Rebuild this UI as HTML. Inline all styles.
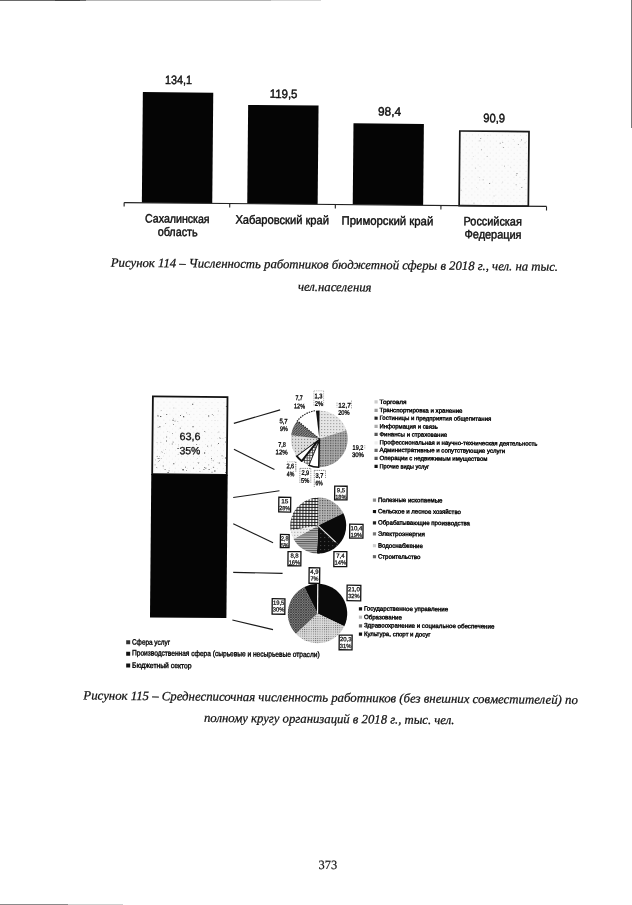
<!DOCTYPE html>
<html><head><meta charset="utf-8">
<style>
html,body{margin:0;padding:0;background:#fff;}
body{width:632px;height:905px;overflow:hidden;position:relative;}
svg{position:absolute;left:0;top:0;display:block;will-change:transform;}
</style></head><body>
<svg width="632" height="905" viewBox="0 0 632 905">
<defs>
<pattern id="dots1" width="6" height="6" patternUnits="userSpaceOnUse">
<rect width="6" height="6" fill="#fbfbfb"/>
<circle cx="1.5" cy="1.5" r="0.45" fill="#d0d0d0"/><circle cx="4.5" cy="4.2" r="0.4" fill="#dcdcdc"/>
</pattern>
<pattern id="pl" width="3" height="3" patternUnits="userSpaceOnUse"><rect width="3" height="3" fill="#e6e6e6"/><rect x="0" y="0" width="1" height="1" fill="#888"/></pattern>
<pattern id="pl2" width="3" height="3" patternUnits="userSpaceOnUse"><rect width="3" height="3" fill="#dcdcdc"/><rect x="1" y="1" width="1" height="1" fill="#777"/></pattern>
<pattern id="pl3" width="3" height="3" patternUnits="userSpaceOnUse"><rect width="3" height="3" fill="#eee"/><rect x="1" y="1" width="1" height="1" fill="#999"/></pattern>
<pattern id="pl4" width="2.2" height="2.2" patternUnits="userSpaceOnUse"><rect width="2.2" height="2.2" fill="#dadada"/><rect x="0" y="0" width="0.9" height="0.9" fill="#666"/></pattern>
<pattern id="pm" width="2.5" height="2.5" patternUnits="userSpaceOnUse"><rect width="2.5" height="2.5" fill="#aaa"/><rect x="0" y="0" width="1.2" height="1.2" fill="#555"/></pattern>
<pattern id="pm2" width="2.5" height="2.5" patternUnits="userSpaceOnUse"><rect width="2.5" height="2.5" fill="#b4b4b4"/><rect x="0" y="0" width="1.1" height="1.1" fill="#4a4a4a"/></pattern>
<pattern id="darkdots" width="4" height="4" patternUnits="userSpaceOnUse"><rect width="4" height="4" fill="#0e0e0e"/><rect x="1" y="1" width="0.8" height="0.8" fill="#777"/></pattern>
<pattern id="grid" width="2.6" height="2.6" patternUnits="userSpaceOnUse"><rect width="2.6" height="2.6" fill="#eee"/><rect width="2.6" height="0.7" fill="#333"/><rect width="0.7" height="2.6" fill="#333"/></pattern>
<pattern id="grid2" width="3" height="3" patternUnits="userSpaceOnUse"><rect width="3" height="3" fill="#f0f0f0"/><rect width="3" height="0.9" fill="#111"/><rect width="0.9" height="3" fill="#111"/></pattern>
<pattern id="hatch" width="2.5" height="2.5" patternUnits="userSpaceOnUse"><rect width="2.5" height="2.5" fill="#999"/><path d="M0 2.5 L2.5 0" stroke="#333" stroke-width="1"/></pattern>
<pattern id="xhatch" width="2.5" height="2.5" patternUnits="userSpaceOnUse"><rect width="2.5" height="2.5" fill="#888"/><path d="M0 0 L2.5 2.5 M0 2.5 L2.5 0" stroke="#333" stroke-width="0.7"/></pattern>
<pattern id="hstripe" width="3" height="2.2" patternUnits="userSpaceOnUse"><rect width="3" height="2.2" fill="#bbb"/><rect y="0" width="3" height="1" fill="#555"/></pattern>
</defs>
<rect width="632" height="905" fill="#ffffff"/>
<g transform="rotate(0.52 316 452)">
<g id="c1">
<rect x="139.6" y="93.6" width="70.4" height="110.7" fill="#050505"/>
<rect x="245" y="105.6" width="70.4" height="98.7" fill="#050505"/>
<rect x="350.5" y="123" width="70.4" height="81.3" fill="#050505"/>
<rect x="456.9" y="129.7" width="69.2" height="74.6" fill="url(#dots1)" stroke="#151515" stroke-width="1.7"/>
<line x1="121.9" y1="204.3" x2="544.3" y2="204.3" stroke="#222" stroke-width="1.2"/>
<line x1="121.9" y1="204.3" x2="121.9" y2="208.3" stroke="#222" stroke-width="1.1"/>
<line x1="227.5" y1="204.3" x2="227.5" y2="208.3" stroke="#222" stroke-width="1.1"/>
<line x1="333.1" y1="204.3" x2="333.1" y2="208.3" stroke="#222" stroke-width="1.1"/>
<line x1="438.7" y1="204.3" x2="438.7" y2="208.3" stroke="#222" stroke-width="1.1"/>
<line x1="544.3" y1="204.3" x2="544.3" y2="208.3" stroke="#222" stroke-width="1.1"/>
</g>
<text x="161.66" y="85.27" font-family="Liberation Sans" font-size="12.1" stroke="#111" stroke-width="0.45" fill="#111" textLength="27" lengthAdjust="spacingAndGlyphs">134,1</text>
<text x="266.48" y="98.31" font-family="Liberation Sans" font-size="12.1" stroke="#111" stroke-width="0.45" fill="#111" textLength="27.8" lengthAdjust="spacingAndGlyphs">119,5</text>
<text x="374.94" y="114.95" font-family="Liberation Sans" font-size="12.1" stroke="#111" stroke-width="0.45" fill="#111" textLength="23" lengthAdjust="spacingAndGlyphs">98,4</text>
<text x="480.29" y="120.59" font-family="Liberation Sans" font-size="12.1" stroke="#111" stroke-width="0.45" fill="#111" textLength="21.7" lengthAdjust="spacingAndGlyphs">90,9</text>
<text x="143.02" y="223.97" font-family="Liberation Sans" font-size="12.1" stroke="#111" stroke-width="0.45" fill="#111" textLength="64.5" lengthAdjust="spacingAndGlyphs">Сахалинская</text>
<text x="155.74" y="237.27" font-family="Liberation Sans" font-size="12.1" stroke="#111" stroke-width="0.45" fill="#111" textLength="39.9" lengthAdjust="spacingAndGlyphs">область</text>
<text x="233.33" y="224.32" font-family="Liberation Sans" font-size="12.1" stroke="#111" stroke-width="0.45" fill="#111" textLength="93.6" lengthAdjust="spacingAndGlyphs">Хабаровский край</text>
<text x="339.53" y="224.26" font-family="Liberation Sans" font-size="12.1" stroke="#111" stroke-width="0.45" fill="#111" textLength="91.7" lengthAdjust="spacingAndGlyphs">Приморский край</text>
<text x="461.53" y="223.8" font-family="Liberation Sans" font-size="12.1" stroke="#111" stroke-width="0.45" fill="#111" textLength="58.2" lengthAdjust="spacingAndGlyphs">Российская</text>
<text x="462.55" y="236.9" font-family="Liberation Sans" font-size="12.1" stroke="#111" stroke-width="0.45" fill="#111" textLength="57" lengthAdjust="spacingAndGlyphs">Федерация</text>
<text x="109.14" y="268.54" font-family="Liberation Serif" font-size="12.7" font-style="italic" stroke="#111" stroke-width="0.25" fill="#111" textLength="447.2" lengthAdjust="spacingAndGlyphs">Рисунок 114 – Численность работников бюджетной сферы в 2018 г., чел. на тыс.</text>
<text x="296.44" y="290.94" font-family="Liberation Serif" font-size="12.7" font-style="italic" stroke="#111" stroke-width="0.25" fill="#111" textLength="73.6" lengthAdjust="spacingAndGlyphs">чел.населения</text>
<rect x="152.4" y="397.9" width="74.6" height="77.8" fill="url(#dots1)" stroke="#111" stroke-width="1.8"/>
<rect x="151.5" y="475.6" width="76.4" height="143.3" fill="#050505"/>
<rect x="177.32" y="422.43" width="0.56" height="0.49" fill="#222"/>
<rect x="213.13" y="416.41" width="0.56" height="0.49" fill="#444"/>
<rect x="156.7" y="444.04" width="0.56" height="0.49" fill="#444"/>
<rect x="160.53" y="443.45" width="0.56" height="0.49" fill="#444"/>
<rect x="199.41" y="452.98" width="0.56" height="0.49" fill="#888"/>
<rect x="157.57" y="428.73" width="0.72" height="0.63" fill="#666"/>
<rect x="184.18" y="450.55" width="0.88" height="0.77" fill="#444"/>
<rect x="161.42" y="452.31" width="0.72" height="0.63" fill="#666"/>
<rect x="161.02" y="459.99" width="0.56" height="0.49" fill="#444"/>
<rect x="189.74" y="450.03" width="0.88" height="0.77" fill="#888"/>
<rect x="196.16" y="445.27" width="0.88" height="0.77" fill="#444"/>
<rect x="211.2" y="459.31" width="0.72" height="0.63" fill="#222"/>
<rect x="195.36" y="449.64" width="0.88" height="0.77" fill="#888"/>
<rect x="174.73" y="473.09" width="0.56" height="0.49" fill="#888"/>
<rect x="165.88" y="437.93" width="1.12" height="0.98" fill="#888"/>
<rect x="156.82" y="457.67" width="0.88" height="0.77" fill="#666"/>
<rect x="204.06" y="453.62" width="1.12" height="0.98" fill="#222"/>
<rect x="214.48" y="471.45" width="1.12" height="0.98" fill="#222"/>
<rect x="158.37" y="459.44" width="1.12" height="0.98" fill="#666"/>
<rect x="205.6" y="468.73" width="0.88" height="0.77" fill="#222"/>
<rect x="221.73" y="438.86" width="0.56" height="0.49" fill="#888"/>
<rect x="158.24" y="462.88" width="0.72" height="0.63" fill="#444"/>
<rect x="182.65" y="470.14" width="1.12" height="0.98" fill="#222"/>
<rect x="165.98" y="441.97" width="0.88" height="0.77" fill="#444"/>
<rect x="212.99" y="467.62" width="0.88" height="0.77" fill="#888"/>
<rect x="225.03" y="458.44" width="1.12" height="0.98" fill="#444"/>
<rect x="164.87" y="424.82" width="0.72" height="0.63" fill="#444"/>
<rect x="154.87" y="466.01" width="0.72" height="0.63" fill="#666"/>
<rect x="174.3" y="421.92" width="0.88" height="0.77" fill="#666"/>
<rect x="222.62" y="458.86" width="0.56" height="0.49" fill="#888"/>
<rect x="218.77" y="463.47" width="1.12" height="0.98" fill="#888"/>
<rect x="182.73" y="417.49" width="1.12" height="0.98" fill="#222"/>
<rect x="167.72" y="473.3" width="1.12" height="0.98" fill="#444"/>
<rect x="161.91" y="453.98" width="0.56" height="0.49" fill="#222"/>
<rect x="194.81" y="450.31" width="0.88" height="0.77" fill="#222"/>
<rect x="159.06" y="427.62" width="1.12" height="0.98" fill="#444"/>
<rect x="199.68" y="471.95" width="0.88" height="0.77" fill="#888"/>
<rect x="162.84" y="466.89" width="1.12" height="0.98" fill="#888"/>
<rect x="188.84" y="415.42" width="0.56" height="0.49" fill="#666"/>
<rect x="207.31" y="446.84" width="0.72" height="0.63" fill="#222"/>
<rect x="168.78" y="471.79" width="0.88" height="0.77" fill="#444"/>
<rect x="203.68" y="470.01" width="0.88" height="0.77" fill="#222"/>
<rect x="204.13" y="431.96" width="0.88" height="0.77" fill="#444"/>
<rect x="179.61" y="428.87" width="0.88" height="0.77" fill="#444"/>
<rect x="198.15" y="463.9" width="0.72" height="0.63" fill="#444"/>
<rect x="212.92" y="461.43" width="0.72" height="0.63" fill="#444"/>
<rect x="191.27" y="438.87" width="0.56" height="0.49" fill="#222"/>
<rect x="210.89" y="446.45" width="0.72" height="0.63" fill="#666"/>
<rect x="186.2" y="471.09" width="0.88" height="0.77" fill="#666"/>
<rect x="159.8" y="417.34" width="1.12" height="0.98" fill="#444"/>
<rect x="178.32" y="447.09" width="0.56" height="0.49" fill="#888"/>
<rect x="219.46" y="438.06" width="0.56" height="0.49" fill="#222"/>
<rect x="219.5" y="463.59" width="0.72" height="0.63" fill="#888"/>
<rect x="218.01" y="444.05" width="0.88" height="0.77" fill="#222"/>
<rect x="211.66" y="472.7" width="1.12" height="0.98" fill="#888"/>
<rect x="182.9" y="471.55" width="0.72" height="0.63" fill="#444"/>
<rect x="225.5" y="406.81" width="1.12" height="0.98" fill="#444"/>
<rect x="198.03" y="453.71" width="1.12" height="0.98" fill="#666"/>
<rect x="165.23" y="450.99" width="0.56" height="0.49" fill="#222"/>
<rect x="211.55" y="460.73" width="0.56" height="0.49" fill="#444"/>
<rect x="185.23" y="467.99" width="0.72" height="0.63" fill="#222"/>
<rect x="172.13" y="434.38" width="0.72" height="0.63" fill="#666"/>
<rect x="172.67" y="443.1" width="0.72" height="0.63" fill="#222"/>
<rect x="219.52" y="438.74" width="1.12" height="0.98" fill="#888"/>
<rect x="213.55" y="468.3" width="0.72" height="0.63" fill="#444"/>
<rect x="191.69" y="404.98" width="1.12" height="0.98" fill="#444"/>
<rect x="197.82" y="463.27" width="0.72" height="0.63" fill="#444"/>
<rect x="164.19" y="455" width="0.56" height="0.49" fill="#222"/>
<rect x="177.47" y="449.24" width="1.12" height="0.98" fill="#222"/>
<rect x="217.59" y="411.6" width="0.72" height="0.63" fill="#666"/>
<rect x="157.04" y="416.83" width="1.12" height="0.98" fill="#222"/>
<rect x="208.72" y="469.94" width="1.12" height="0.98" fill="#666"/>
<rect x="198.1" y="448.47" width="0.72" height="0.63" fill="#666"/>
<rect x="186.57" y="450.12" width="1.12" height="0.98" fill="#444"/>
<rect x="204.34" y="468.22" width="0.88" height="0.77" fill="#444"/>
<rect x="214.48" y="421.07" width="0.56" height="0.49" fill="#888"/>
<rect x="185.83" y="413.75" width="0.72" height="0.63" fill="#888"/>
<rect x="159.26" y="457.74" width="0.56" height="0.49" fill="#444"/>
<rect x="221.64" y="456.33" width="0.88" height="0.77" fill="#444"/>
<rect x="172.22" y="421.08" width="1.12" height="0.98" fill="#444"/>
<rect x="207.76" y="416.41" width="1.12" height="0.98" fill="#444"/>
<rect x="225.27" y="466.08" width="0.72" height="0.63" fill="#888"/>
<rect x="225.57" y="442.11" width="1.12" height="0.98" fill="#444"/>
<rect x="179.68" y="416.18" width="0.88" height="0.77" fill="#222"/>
<rect x="178.33" y="445.61" width="0.56" height="0.49" fill="#888"/>
<rect x="177.87" y="455.27" width="0.56" height="0.49" fill="#222"/>
<rect x="224.93" y="463.89" width="0.56" height="0.49" fill="#222"/>
<rect x="173.12" y="408.95" width="0.72" height="0.63" fill="#666"/>
<rect x="208.42" y="465.46" width="0.88" height="0.77" fill="#888"/>
<rect x="164.75" y="470.25" width="1.12" height="0.98" fill="#666"/>
<rect x="160.44" y="411.7" width="0.72" height="0.63" fill="#888"/>
<rect x="218.46" y="432.56" width="0.56" height="0.49" fill="#222"/>
<rect x="211.72" y="415.16" width="0.72" height="0.63" fill="#222"/>
<rect x="173.04" y="419.48" width="0.56" height="0.49" fill="#666"/>
<rect x="225.59" y="443.02" width="0.88" height="0.77" fill="#444"/>
<rect x="157.11" y="459.86" width="0.56" height="0.49" fill="#444"/>
<rect x="172.86" y="425.27" width="0.88" height="0.77" fill="#666"/>
<rect x="192.24" y="427.44" width="1.12" height="0.98" fill="#444"/>
<rect x="173.48" y="464.66" width="0.88" height="0.77" fill="#222"/>
<rect x="155.1" y="461.08" width="0.72" height="0.63" fill="#888"/>
<rect x="171.69" y="444.88" width="1.12" height="0.98" fill="#888"/>
<rect x="193.31" y="468.81" width="0.88" height="0.77" fill="#444"/>
<rect x="224.74" y="437.97" width="0.72" height="0.63" fill="#888"/>
<rect x="225.24" y="473.17" width="0.72" height="0.63" fill="#222"/>
<rect x="159.09" y="461.48" width="0.88" height="0.77" fill="#888"/>
<rect x="165.75" y="415.25" width="1.12" height="0.98" fill="#666"/>
<rect x="197.11" y="458.97" width="0.56" height="0.49" fill="#888"/>
<rect x="167.35" y="432.57" width="0.56" height="0.49" fill="#666"/>
<rect x="180.22" y="437" width="0.88" height="0.77" fill="#444"/>
<rect x="156.48" y="468.5" width="0.72" height="0.63" fill="#666"/>
<rect x="470.26" y="155.14" width="0.52" height="0.52" fill="#999"/>
<rect x="476.69" y="178.23" width="0.52" height="0.52" fill="#aaa"/>
<rect x="510.01" y="137.54" width="0.52" height="0.52" fill="#777"/>
<rect x="484.77" y="134" width="0.52" height="0.52" fill="#999"/>
<rect x="478.38" y="147.76" width="0.9" height="0.9" fill="#aaa"/>
<rect x="515.17" y="142.18" width="0.9" height="0.9" fill="#aaa"/>
<rect x="484.1" y="154.48" width="0.68" height="0.68" fill="#777"/>
<rect x="477.04" y="175.55" width="0.52" height="0.52" fill="#777"/>
<rect x="513.27" y="182.48" width="0.9" height="0.9" fill="#aaa"/>
<rect x="486.76" y="181.48" width="0.9" height="0.9" fill="#777"/>
<rect x="518.96" y="185.21" width="0.9" height="0.9" fill="#777"/>
<rect x="513.37" y="173.05" width="0.9" height="0.9" fill="#aaa"/>
<rect x="522.06" y="177.29" width="0.52" height="0.52" fill="#777"/>
<rect x="460.8" y="176.87" width="0.52" height="0.52" fill="#999"/>
<rect x="514" y="171.21" width="0.9" height="0.9" fill="#777"/>
<rect x="499.96" y="180.01" width="0.68" height="0.68" fill="#999"/>
<rect x="458.22" y="188.43" width="0.9" height="0.9" fill="#aaa"/>
<rect x="518.16" y="137.62" width="0.9" height="0.9" fill="#777"/>
<rect x="507.96" y="165.12" width="0.52" height="0.52" fill="#999"/>
<rect x="473.73" y="185.46" width="0.52" height="0.52" fill="#aaa"/>
<rect x="501.55" y="164.14" width="0.68" height="0.68" fill="#777"/>
<rect x="490.09" y="180.23" width="0.52" height="0.52" fill="#aaa"/>
<rect x="500.4" y="145.28" width="0.9" height="0.9" fill="#777"/>
<rect x="480.23" y="177.91" width="0.9" height="0.9" fill="#999"/>
<rect x="499.62" y="140.61" width="0.68" height="0.68" fill="#777"/>
<rect x="490.55" y="201.02" width="0.52" height="0.52" fill="#aaa"/>
<rect x="472.59" y="166.25" width="0.9" height="0.9" fill="#aaa"/>
<rect x="477.13" y="164.54" width="0.52" height="0.52" fill="#aaa"/>
<rect x="471.35" y="201.43" width="0.68" height="0.68" fill="#777"/>
<rect x="477.4" y="136.51" width="0.9" height="0.9" fill="#999"/>
<rect x="524.6" y="158.85" width="0.52" height="0.52" fill="#777"/>
<rect x="496.96" y="141.21" width="0.9" height="0.9" fill="#999"/>
<rect x="521.83" y="140.55" width="0.9" height="0.9" fill="#aaa"/>
<rect x="476.73" y="139.11" width="0.68" height="0.68" fill="#777"/>
<rect x="491.36" y="194.08" width="0.68" height="0.68" fill="#777"/>
<text x="179.4" y="441.15" font-family="Liberation Sans" font-size="10.5" stroke="#111" stroke-width="0.3" fill="#111" textLength="20.9" lengthAdjust="spacingAndGlyphs">63,6</text>
<text x="179.53" y="455.45" font-family="Liberation Sans" font-size="10.5" stroke="#111" stroke-width="0.3" fill="#111" textLength="20.9" lengthAdjust="spacingAndGlyphs">35%</text>
<line x1="233.6" y1="424.1" x2="279.7" y2="410.2" stroke="#1a1a1a" stroke-width="1.1"/>
<line x1="233.9" y1="450.1" x2="274.6" y2="469.8" stroke="#1a1a1a" stroke-width="1.1"/>
<line x1="233.6" y1="498.3" x2="279.8" y2="491.1" stroke="#1a1a1a" stroke-width="1.1"/>
<line x1="233.9" y1="524.5" x2="273.9" y2="543.1" stroke="#1a1a1a" stroke-width="1.1"/>
<line x1="234.3" y1="573.1" x2="283.7" y2="573.7" stroke="#1a1a1a" stroke-width="1.1"/>
<line x1="233.9" y1="620.8" x2="274.6" y2="630.0" stroke="#1a1a1a" stroke-width="1.1"/>
<path d="M319.2 438.8 L319.2 410.4 A28.4 28.4 0 0 1 346.19 429.97 Z" fill="url(#pl)"/>
<path d="M319.2 438.8 L346.19 429.97 A28.4 28.4 0 0 1 318.92 467.2 Z" fill="url(#pm)"/>
<path d="M319.2 438.8 L318.92 467.2 A28.4 28.4 0 0 1 308.79 465.22 Z" fill="#fff" stroke="#111" stroke-width="1.6" stroke-linejoin="round"/>
<path d="M319.2 438.8 L308.79 465.22 A28.4 28.4 0 0 1 301.74 461.2 Z" fill="url(#grid)"/>
<path d="M319.2 438.8 L301.74 461.2 A28.4 28.4 0 0 1 296.63 456.03 Z" fill="#fff" stroke="#111" stroke-width="1.8" stroke-linejoin="round"/>
<path d="M319.2 438.8 L296.63 456.03 A28.4 28.4 0 0 1 291 435.44 Z" fill="url(#pl2)"/>
<path d="M319.2 438.8 L291 435.44 A28.4 28.4 0 0 1 297.15 420.91 Z" fill="url(#hatch)"/>
<path d="M319.2 438.8 L297.15 420.91 A28.4 28.4 0 0 1 315.56 410.63 Z" fill="#fff"/>
<path d="M319.2 438.8 L315.56 410.63 A28.4 28.4 0 0 1 319.2 410.4 Z" fill="#111"/>
<path d="M319.2 438.8 L297.13 420.93 A28.4 28.4 0 0 1 315.54 410.64" fill="none" stroke="#222" stroke-width="1.2" stroke-dasharray="1.5 1"/>
<path d="M318.9 525.6 L318.9 497.6 A28 28 0 0 1 343.95 513.08 Z" fill="url(#pm2)"/>
<path d="M318.9 525.6 L343.95 513.08 A28 28 0 0 1 339.41 544.66 Z" fill="#0a0a0a"/>
<path d="M318.9 525.6 L339.41 544.66 A28 28 0 0 1 317.76 553.58 Z" fill="url(#darkdots)"/>
<path d="M318.9 525.6 L317.76 553.58 A28 28 0 0 1 294.38 539.13 Z" fill="url(#hstripe)"/>
<path d="M318.9 525.6 L294.38 539.13 A28 28 0 0 1 291.34 530.55 Z" fill="url(#pl3)"/>
<path d="M318.9 525.6 L291.34 530.55 A28 28 0 0 1 318.9 497.6 Z" fill="url(#grid2)"/>
<line x1="318.9" y1="525.6" x2="336.45" y2="541.97" stroke="#e8e8e8" stroke-width="1.2"/>
<path d="M319 613.5 L319 583.8 A29.7 29.7 0 0 1 345.9 626.08 Z" fill="#0a0a0a"/>
<path d="M319 613.5 L345.9 626.08 A29.7 29.7 0 0 1 297.53 634.02 Z" fill="url(#pl4)"/>
<path d="M319 613.5 L297.53 634.02 A29.7 29.7 0 0 1 305.59 587 Z" fill="url(#xhatch)"/>
<path d="M319 613.5 L305.59 587 A29.7 29.7 0 0 1 319 583.8 Z" fill="#0a0a0a"/>
<line x1="319" y1="613.5" x2="319" y2="584" stroke="#f4f4f4" stroke-width="1.2"/>
<text x="294.93" y="400.16" font-family="Liberation Sans" font-size="6.6" stroke="#111" stroke-width="0.35" fill="#111" textLength="7.3" lengthAdjust="spacingAndGlyphs">7,7</text>
<text x="293.7" y="408.55" font-family="Liberation Sans" font-size="6.6" stroke="#111" stroke-width="0.35" fill="#111" textLength="10.9" lengthAdjust="spacingAndGlyphs">12%</text>
<text x="313.91" y="398.28" font-family="Liberation Sans" font-size="6.6" stroke="#111" stroke-width="0.35" fill="#111" textLength="7.9" lengthAdjust="spacingAndGlyphs">1,3</text>
<text x="314.28" y="405.88" font-family="Liberation Sans" font-size="6.6" stroke="#111" stroke-width="0.35" fill="#111" textLength="8.3" lengthAdjust="spacingAndGlyphs">2%</text>
<text x="337.79" y="407.24" font-family="Liberation Sans" font-size="6.6" stroke="#111" stroke-width="0.35" fill="#111" textLength="12.6" lengthAdjust="spacingAndGlyphs">12,7</text>
<text x="337.86" y="414.45" font-family="Liberation Sans" font-size="6.6" stroke="#111" stroke-width="0.35" fill="#111" textLength="11.4" lengthAdjust="spacingAndGlyphs">20%</text>
<text x="279.14" y="423.7" font-family="Liberation Sans" font-size="6.6" stroke="#111" stroke-width="0.35" fill="#111" textLength="8.3" lengthAdjust="spacingAndGlyphs">5,7</text>
<text x="279.81" y="431.29" font-family="Liberation Sans" font-size="6.6" stroke="#111" stroke-width="0.35" fill="#111" textLength="7.7" lengthAdjust="spacingAndGlyphs">9%</text>
<text x="278.15" y="447.11" font-family="Liberation Sans" font-size="6.6" stroke="#111" stroke-width="0.35" fill="#111" textLength="7.6" lengthAdjust="spacingAndGlyphs">7,8</text>
<text x="275.62" y="454.71" font-family="Liberation Sans" font-size="6.6" stroke="#111" stroke-width="0.35" fill="#111" textLength="12.1" lengthAdjust="spacingAndGlyphs">12%</text>
<text x="352.58" y="449.32" font-family="Liberation Sans" font-size="6.6" stroke="#111" stroke-width="0.35" fill="#111" textLength="10.7" lengthAdjust="spacingAndGlyphs">19,2</text>
<text x="351.94" y="456.72" font-family="Liberation Sans" font-size="6.6" stroke="#111" stroke-width="0.35" fill="#111" textLength="12.1" lengthAdjust="spacingAndGlyphs">30%</text>
<text x="286.55" y="468.43" font-family="Liberation Sans" font-size="6.6" stroke="#111" stroke-width="0.35" fill="#111" textLength="7.8" lengthAdjust="spacingAndGlyphs">2,6</text>
<text x="287.02" y="476.53" font-family="Liberation Sans" font-size="6.6" stroke="#111" stroke-width="0.35" fill="#111" textLength="7.4" lengthAdjust="spacingAndGlyphs">4%</text>
<text x="301.61" y="475" font-family="Liberation Sans" font-size="6.6" stroke="#111" stroke-width="0.35" fill="#111" textLength="7.8" lengthAdjust="spacingAndGlyphs">2,9</text>
<text x="301.28" y="482.8" font-family="Liberation Sans" font-size="6.6" stroke="#111" stroke-width="0.35" fill="#111" textLength="8.2" lengthAdjust="spacingAndGlyphs">5%</text>
<text x="315.83" y="477.67" font-family="Liberation Sans" font-size="6.6" stroke="#111" stroke-width="0.35" fill="#111" textLength="7.8" lengthAdjust="spacingAndGlyphs">3,7</text>
<text x="315.9" y="485.27" font-family="Liberation Sans" font-size="6.6" stroke="#111" stroke-width="0.35" fill="#111" textLength="7.1" lengthAdjust="spacingAndGlyphs">6%</text>
<line x1="295.89" y1="461.98" x2="295.98" y2="471.68" stroke="#333" stroke-width="0.8" stroke-dasharray="1.3 0.9"/>
<line x1="287.09" y1="462.06" x2="295.89" y2="461.98" stroke="#999" stroke-width="0.7" stroke-dasharray="1.3 0.9"/>
<line x1="300.35" y1="468.54" x2="310.75" y2="468.45" stroke="#444" stroke-width="0.7" stroke-dasharray="1.3 0.9"/>
<line x1="300.05" y1="468.55" x2="300.19" y2="483.65" stroke="#666" stroke-width="0.7" stroke-dasharray="1.3 0.9"/>
<line x1="310.95" y1="468.45" x2="311.09" y2="483.55" stroke="#777" stroke-width="0.7" stroke-dasharray="1.3 0.9"/>
<line x1="314.47" y1="470.41" x2="325.47" y2="470.31" stroke="#444" stroke-width="0.7" stroke-dasharray="1.3 0.9"/>
<line x1="314.47" y1="470.41" x2="314.62" y2="487.01" stroke="#666" stroke-width="0.7" stroke-dasharray="1.3 0.9"/>
<line x1="325.67" y1="470.31" x2="325.74" y2="477.91" stroke="#666" stroke-width="0.7" stroke-dasharray="1.3 0.9"/>
<line x1="313.34" y1="391.02" x2="313.49" y2="406.52" stroke="#999" stroke-width="0.7" stroke-dasharray="1.3 0.9"/>
<line x1="323.04" y1="390.93" x2="323.19" y2="406.43" stroke="#999" stroke-width="0.7" stroke-dasharray="1.3 0.9"/>
<line x1="313.34" y1="390.82" x2="323.04" y2="390.73" stroke="#aaa" stroke-width="0.7" stroke-dasharray="1.3 0.9"/>
<line x1="336.55" y1="402.31" x2="336.59" y2="407.31" stroke="#888" stroke-width="0.7" stroke-dasharray="1.3 0.9"/>
<line x1="351.03" y1="400.18" x2="351.1" y2="408.18" stroke="#888" stroke-width="0.7" stroke-dasharray="1.3 0.9"/>
<line x1="364.73" y1="444.56" x2="364.78" y2="449.06" stroke="#999" stroke-width="0.7" stroke-dasharray="1.3 0.9"/>
<rect x="335.05" y="485.98" width="12.4" height="13.7" fill="#fff" stroke="#111" stroke-width="1.3"/>
<text x="341.32" y="492.03" text-anchor="middle" font-family="Liberation Sans" font-size="6" fill="#111" textLength="8.2" lengthAdjust="spacingAndGlyphs" stroke="#111" stroke-width="0.25">9,5</text>
<text x="341.32" y="498.83" text-anchor="middle" font-family="Liberation Sans" font-size="6" fill="#111" textLength="11.3" lengthAdjust="spacingAndGlyphs" stroke="#111" stroke-width="0.25">18%</text>
<rect x="279.26" y="497.59" width="11.9" height="14.7" fill="#fff" stroke="#111" stroke-width="1.3"/>
<text x="285.28" y="503.64" text-anchor="middle" font-family="Liberation Sans" font-size="6" fill="#111" textLength="7.2" lengthAdjust="spacingAndGlyphs" stroke="#111" stroke-width="0.25">15</text>
<text x="285.28" y="510.44" text-anchor="middle" font-family="Liberation Sans" font-size="6" fill="#111" textLength="10.8" lengthAdjust="spacingAndGlyphs" stroke="#111" stroke-width="0.25">28%</text>
<rect x="350.4" y="523.85" width="13.3" height="13.9" fill="#fff" stroke="#111" stroke-width="1.3"/>
<text x="357.12" y="529.9" text-anchor="middle" font-family="Liberation Sans" font-size="6" fill="#111" textLength="11.8" lengthAdjust="spacingAndGlyphs" stroke="#111" stroke-width="0.25">10,4</text>
<text x="357.12" y="536.7" text-anchor="middle" font-family="Liberation Sans" font-size="6" fill="#111" textLength="11.6" lengthAdjust="spacingAndGlyphs" stroke="#111" stroke-width="0.25">19%</text>
<rect x="281.2" y="534.78" width="8.7" height="13.1" fill="#fff" stroke="#111" stroke-width="1.3"/>
<text x="285.61" y="540.83" text-anchor="middle" font-family="Liberation Sans" font-size="6" fill="#111" textLength="7.4" lengthAdjust="spacingAndGlyphs" stroke="#111" stroke-width="0.25">2,8</text>
<text x="285.61" y="547.63" text-anchor="middle" font-family="Liberation Sans" font-size="6" fill="#111" textLength="7.6" lengthAdjust="spacingAndGlyphs" stroke="#111" stroke-width="0.25">5%</text>
<rect x="288.95" y="551.81" width="12.9" height="14.2" fill="#fff" stroke="#111" stroke-width="1.3"/>
<text x="295.47" y="557.86" text-anchor="middle" font-family="Liberation Sans" font-size="6" fill="#111" textLength="8.2" lengthAdjust="spacingAndGlyphs" stroke="#111" stroke-width="0.25">8,8</text>
<text x="295.47" y="564.66" text-anchor="middle" font-family="Liberation Sans" font-size="6" fill="#111" textLength="11.6" lengthAdjust="spacingAndGlyphs" stroke="#111" stroke-width="0.25">16%</text>
<rect x="334.85" y="551.39" width="12.9" height="15" fill="#fff" stroke="#111" stroke-width="1.3"/>
<text x="341.37" y="557.44" text-anchor="middle" font-family="Liberation Sans" font-size="6" fill="#111" textLength="8.2" lengthAdjust="spacingAndGlyphs" stroke="#111" stroke-width="0.25">7,4</text>
<text x="341.37" y="564.24" text-anchor="middle" font-family="Liberation Sans" font-size="6" fill="#111" textLength="11.6" lengthAdjust="spacingAndGlyphs" stroke="#111" stroke-width="0.25">14%</text>
<rect x="310.2" y="567.81" width="10.6" height="15.5" fill="#fff" stroke="#111" stroke-width="1.3"/>
<text x="315.57" y="573.86" text-anchor="middle" font-family="Liberation Sans" font-size="6" fill="#111" textLength="8.2" lengthAdjust="spacingAndGlyphs" stroke="#111" stroke-width="0.25">4,9</text>
<text x="315.57" y="580.66" text-anchor="middle" font-family="Liberation Sans" font-size="6" fill="#111" textLength="8" lengthAdjust="spacingAndGlyphs" stroke="#111" stroke-width="0.25">7%</text>
<rect x="348.35" y="584.87" width="13.7" height="15.5" fill="#fff" stroke="#111" stroke-width="1.3"/>
<text x="355.28" y="590.92" text-anchor="middle" font-family="Liberation Sans" font-size="6" fill="#111" textLength="11.8" lengthAdjust="spacingAndGlyphs" stroke="#111" stroke-width="0.25">21,0</text>
<text x="355.28" y="597.72" text-anchor="middle" font-family="Liberation Sans" font-size="6" fill="#111" textLength="11.6" lengthAdjust="spacingAndGlyphs" stroke="#111" stroke-width="0.25">32%</text>
<rect x="273.58" y="599.05" width="12.7" height="15.5" fill="#fff" stroke="#111" stroke-width="1.3"/>
<text x="280.01" y="605.1" text-anchor="middle" font-family="Liberation Sans" font-size="6" fill="#111" textLength="11.4" lengthAdjust="spacingAndGlyphs" stroke="#111" stroke-width="0.25">19,5</text>
<text x="280.01" y="611.9" text-anchor="middle" font-family="Liberation Sans" font-size="6" fill="#111" textLength="11.6" lengthAdjust="spacingAndGlyphs" stroke="#111" stroke-width="0.25">30%</text>
<rect x="340.91" y="634.84" width="12.9" height="14.7" fill="#fff" stroke="#111" stroke-width="1.3"/>
<text x="347.43" y="640.89" text-anchor="middle" font-family="Liberation Sans" font-size="6" fill="#111" textLength="11.6" lengthAdjust="spacingAndGlyphs" stroke="#111" stroke-width="0.25">20,3</text>
<text x="347.43" y="647.69" text-anchor="middle" font-family="Liberation Sans" font-size="6" fill="#111" textLength="11.6" lengthAdjust="spacingAndGlyphs" stroke="#111" stroke-width="0.25">31%</text>
<text x="379.06" y="403.3" font-family="Liberation Sans" font-size="6" stroke="#0a0a0a" stroke-width="0.4" fill="#0a0a0a" textLength="27" lengthAdjust="spacingAndGlyphs">Торговля</text>
<rect x="374.03" y="399.77" width="3.2" height="3.2" fill="#ccc"/>
<text x="379.14" y="411.45" font-family="Liberation Sans" font-size="6" stroke="#0a0a0a" stroke-width="0.4" fill="#0a0a0a" textLength="83" lengthAdjust="spacingAndGlyphs">Транспортировка и хранение</text>
<rect x="374.1" y="408.17" width="3.2" height="3.2" fill="#999"/>
<text x="379.21" y="419.21" font-family="Liberation Sans" font-size="6" stroke="#0a0a0a" stroke-width="0.4" fill="#0a0a0a" textLength="111.8" lengthAdjust="spacingAndGlyphs">Гостиницы и предприятия общепитания</text>
<rect x="374.18" y="416.07" width="3.2" height="3.2" fill="#222"/>
<text x="379.28" y="427.66" font-family="Liberation Sans" font-size="6" stroke="#0a0a0a" stroke-width="0.4" fill="#0a0a0a" textLength="58.3" lengthAdjust="spacingAndGlyphs">Информация и связь</text>
<rect x="374.25" y="424.27" width="3.2" height="3.2" fill="#aaa"/>
<text x="379.36" y="435.61" font-family="Liberation Sans" font-size="6" stroke="#0a0a0a" stroke-width="0.4" fill="#0a0a0a" textLength="67.7" lengthAdjust="spacingAndGlyphs">Финансы и страхование</text>
<rect x="374.32" y="432.27" width="3.2" height="3.2" fill="#555"/>
<text x="379.43" y="443.7" font-family="Liberation Sans" font-size="6" stroke="#0a0a0a" stroke-width="0.4" fill="#0a0a0a" textLength="158" lengthAdjust="spacingAndGlyphs">Профессиональная и научно-техническая деятельность</text>
<rect x="374.4" y="440.77" width="3.2" height="3.2" fill="#eee"/>
<text x="379.5" y="451.25" font-family="Liberation Sans" font-size="6" stroke="#0a0a0a" stroke-width="0.4" fill="#0a0a0a" textLength="125.7" lengthAdjust="spacingAndGlyphs">Административные и сопутствующие услуги</text>
<rect x="374.47" y="448.17" width="3.2" height="3.2" fill="#666"/>
<text x="379.57" y="459.33" font-family="Liberation Sans" font-size="6" stroke="#0a0a0a" stroke-width="0.4" fill="#0a0a0a" textLength="108" lengthAdjust="spacingAndGlyphs">Операции с недвижимым имуществом</text>
<rect x="374.54" y="456.17" width="3.2" height="3.2" fill="#555"/>
<text x="379.65" y="467.7" font-family="Liberation Sans" font-size="6" stroke="#0a0a0a" stroke-width="0.4" fill="#0a0a0a" textLength="49.6" lengthAdjust="spacingAndGlyphs">Прочие виды услуг</text>
<rect x="374.61" y="464.27" width="3.2" height="3.2" fill="#111"/>
<text x="378.35" y="501.34" font-family="Liberation Sans" font-size="6.2" stroke="#0a0a0a" stroke-width="0.4" fill="#0a0a0a" textLength="64.6" lengthAdjust="spacingAndGlyphs">Полезные ископаемые</text>
<rect x="373.32" y="497.98" width="3.2" height="3.2" fill="#888"/>
<text x="378.46" y="512.66" font-family="Liberation Sans" font-size="6.2" stroke="#0a0a0a" stroke-width="0.4" fill="#0a0a0a" textLength="83" lengthAdjust="spacingAndGlyphs">Сельское и лесное хозяйство</text>
<rect x="373.42" y="509.38" width="3.2" height="3.2" fill="#111"/>
<text x="378.56" y="524.01" font-family="Liberation Sans" font-size="6.2" stroke="#0a0a0a" stroke-width="0.4" fill="#0a0a0a" textLength="92.1" lengthAdjust="spacingAndGlyphs">Обрабатывающие производства</text>
<rect x="373.53" y="520.78" width="3.2" height="3.2" fill="#222"/>
<text x="378.66" y="535.22" font-family="Liberation Sans" font-size="6.2" stroke="#0a0a0a" stroke-width="0.4" fill="#0a0a0a" textLength="46.9" lengthAdjust="spacingAndGlyphs">Электроэнергия</text>
<rect x="373.63" y="531.78" width="3.2" height="3.2" fill="#777"/>
<text x="378.77" y="547.03" font-family="Liberation Sans" font-size="6.2" stroke="#0a0a0a" stroke-width="0.4" fill="#0a0a0a" textLength="45" lengthAdjust="spacingAndGlyphs">Водоснабжение</text>
<rect x="373.74" y="543.58" width="3.2" height="3.2" fill="#ccc"/>
<text x="378.87" y="558.04" font-family="Liberation Sans" font-size="6.2" stroke="#0a0a0a" stroke-width="0.4" fill="#0a0a0a" textLength="42.5" lengthAdjust="spacingAndGlyphs">Строительство</text>
<rect x="373.84" y="554.58" width="3.2" height="3.2" fill="#666"/>
<text x="365.34" y="610.07" font-family="Liberation Sans" font-size="6.2" stroke="#0a0a0a" stroke-width="0.4" fill="#0a0a0a" textLength="84.3" lengthAdjust="spacingAndGlyphs">Государственное управление</text>
<rect x="360.31" y="606.8" width="3.2" height="3.2" fill="#111"/>
<text x="365.42" y="618.68" font-family="Liberation Sans" font-size="6.2" stroke="#0a0a0a" stroke-width="0.4" fill="#0a0a0a" textLength="38" lengthAdjust="spacingAndGlyphs">Образование</text>
<rect x="360.39" y="615.2" width="3.2" height="3.2" fill="#bbb"/>
<text x="365.5" y="626.86" font-family="Liberation Sans" font-size="6.2" stroke="#0a0a0a" stroke-width="0.4" fill="#0a0a0a" textLength="130.4" lengthAdjust="spacingAndGlyphs">Здравоохранение и социальное обеспечение</text>
<rect x="360.47" y="623.8" width="3.2" height="3.2" fill="#666"/>
<text x="365.57" y="635.45" font-family="Liberation Sans" font-size="6.2" stroke="#0a0a0a" stroke-width="0.4" fill="#0a0a0a" textLength="66.6" lengthAdjust="spacingAndGlyphs">Культура, спорт и досуг</text>
<rect x="360.54" y="632.1" width="3.2" height="3.2" fill="#111"/>
<text x="133.76" y="646.19" font-family="Liberation Sans" font-size="7.6" stroke="#0a0a0a" stroke-width="0.4" fill="#0a0a0a" textLength="38" lengthAdjust="spacingAndGlyphs">Сфера услуг</text>
<rect x="127.92" y="641.92" width="4" height="4" fill="#333"/>
<text x="133.87" y="657.01" font-family="Liberation Sans" font-size="7.6" stroke="#0a0a0a" stroke-width="0.4" fill="#0a0a0a" textLength="187.6" lengthAdjust="spacingAndGlyphs">Производственная сфера (сырьевые и несырьевые отрасли)</text>
<rect x="128.03" y="653.42" width="4" height="4" fill="#111"/>
<text x="133.97" y="669.39" font-family="Liberation Sans" font-size="7.6" stroke="#0a0a0a" stroke-width="0.4" fill="#0a0a0a" textLength="59.5" lengthAdjust="spacingAndGlyphs">Бюджетный сектор</text>
<rect x="128.13" y="665.22" width="4" height="4" fill="#111"/>
<text x="85.58" y="701.56" font-family="Liberation Serif" font-size="12.7" font-style="italic" stroke="#111" stroke-width="0.25" fill="#111" textLength="494.5" lengthAdjust="spacingAndGlyphs">Рисунок 115 – Среднесписочная численность работников (без внешних совместителей) по</text>
<text x="206.47" y="722.87" font-family="Liberation Serif" font-size="12.7" font-style="italic" stroke="#111" stroke-width="0.25" fill="#111" textLength="250.4" lengthAdjust="spacingAndGlyphs">полному кругу организаций в 2018 г., тыс. чел.</text>
<text x="322.39" y="868.87" font-family="Liberation Serif" font-size="12.7" stroke="#111" stroke-width="0.2" fill="#111" textLength="18.5" lengthAdjust="spacingAndGlyphs">373</text>
</g>
<rect x="0" y="0" width="86" height="1" fill="#6a6a6a"/>
<rect x="55" y="0" width="25" height="1" fill="#444"/>
<rect x="86" y="0" width="185" height="1" fill="#b5b5b5"/>
<rect x="271" y="0" width="50" height="1" fill="#d5d5d5"/>
<rect x="631" y="0" width="1" height="128" fill="#7a7a7a"/>
<rect x="0" y="904" width="68" height="1" fill="#8a8a8a"/>
<rect x="68" y="904" width="55" height="1" fill="#d0d0d0"/>
</svg>
</body></html>
